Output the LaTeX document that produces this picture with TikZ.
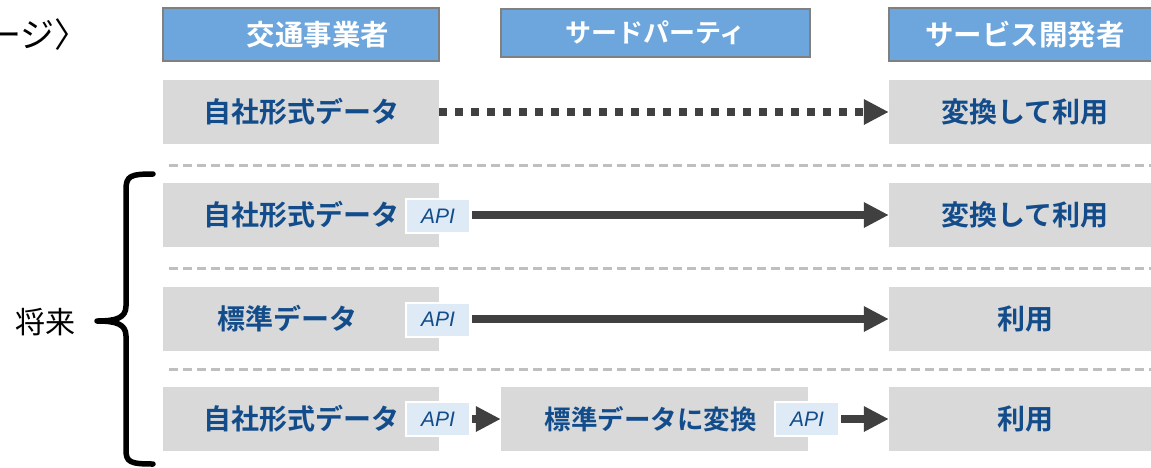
\documentclass[tikz,border=0pt]{standalone}
\usepackage{fontspec}
\newfontfamily\jp{Noto Sans CJK JP}[BoldFont={Noto Sans CJK JP Bold}]
\newfontfamily\apif{Liberation Sans}
\usetikzlibrary{arrows.meta}
\definecolor{hdr}{RGB}{108,166,220}
\definecolor{hdrline}{RGB}{128,128,128}
\definecolor{boxgray}{RGB}{217,217,217}
\definecolor{txtblue}{RGB}{18,76,138}
\definecolor{apifill}{RGB}{222,235,247}
\definecolor{arr}{RGB}{64,64,64}
\definecolor{sepgray}{RGB}{191,191,191}
\begin{document}
\begin{tikzpicture}[x=1pt,y=-1pt,
 hdrbox/.style={draw=hdrline, line width=2pt, fill=hdr, text=white, font=\jp\bfseries\fontsize{28.5}{30}\selectfont, inner sep=0pt},
 graybox/.style={fill=boxgray, minimum height=64pt, inner sep=0pt, text=txtblue, font=\jp\bfseries\fontsize{28}{30}\selectfont},
 apibox/.style={draw=white, line width=2pt, fill=apifill, minimum width=64pt, minimum height=34pt, inner sep=0pt, text=txtblue, font=\apif\itshape\fontsize{21}{22}\selectfont},
 conn/.style={draw=arr, line width=8pt, -{Triangle[length=25pt,width=24pt]}},
 dotconn/.style={conn, dash pattern=on 8pt off 8pt},
 sepline/.style={draw=sepgray, line width=3pt, dash pattern=on 9pt off 5pt},
 plain/.style={inner sep=0pt, text=black, font=\jp\fontsize{30}{32}\selectfont}
]
\useasboundingbox (0,0) rectangle (1151,467);
\clip (0,0) rectangle (1151,467);

% top-left cut text
\node[plain, anchor=west, font=\jp\fontsize{34}{36}\selectfont] (ttl) at (-13,35) {ージ〉};

% headers
\node[hdrbox, minimum width=276pt, minimum height=53pt] (h1) at (301,34.5) {\hspace*{34pt}交通事業者};
\node[hdrbox, minimum width=309pt, minimum height=48pt, font=\jp\bfseries\fontsize{26}{30}\selectfont] (h2) at (655.5,33) {サードパーティ};
\node[hdrbox, minimum width=272pt, minimum height=53pt] (h3) at (1025,34.5) {サービス開発者};

% row 1
\node[graybox, minimum width=276pt] (l1) at (301,112) {自社形式データ};
\node[graybox, minimum width=272pt] (r1) at (1025,112) {変換して利用};
\draw[dotconn] (l1.east) -- (r1.west);

\draw[sepline] (169,165) -- (1151,165);

% row 2
\node[graybox, minimum width=276pt] (l2) at (301,215) {自社形式データ};
\node[apibox] (a2) at (438,216) {API};
\node[graybox, minimum width=272pt] (r2) at (1025,215) {変換して利用};
\draw[conn, shorten <=1pt] (a2.east |- l2.center) -- (r2.west);

\draw[sepline] (169,268) -- (1151,268);

% row 3
\node[graybox, minimum width=276pt] (l3) at (301,319) {標準データ\hspace*{28pt}};
\node[apibox] (a3) at (438,319.5) {API};
\node[graybox, minimum width=272pt] (r3) at (1025,319) {利用};
\draw[conn, shorten <=1pt] (a3.east |- l3.center) -- (r3.west);

\draw[sepline] (169,369) -- (1151,369);

% row 4
\node[graybox, minimum width=276pt] (l4) at (301,419) {自社形式データ};
\node[graybox, minimum width=307pt, font=\jp\bfseries\fontsize{26.5}{30}\selectfont] (m4) at (654.5,419) {標準データに変換\hspace*{8pt}};
\node[graybox, minimum width=272pt] (r4) at (1025,419) {利用};
\node[apibox] (a4) at (438,419) {API};
\node[apibox] (b4) at (807,419) {API};
\draw[conn, shorten <=1pt] (a4.east) -- (m4.west);
\draw[conn, shorten <=1pt] (b4.east) -- (r4.west);

% brace and label
\draw[line width=5.5pt, line cap=round, line join=round]
  (153,174) .. controls (130,174) and (126,176) .. (126,190)
  -- (126,306) .. controls (126,318) and (116,321) .. (97,321)
  .. controls (116,321) and (126,324) .. (126,336)
  -- (126,450) .. controls (126,462) and (130,464) .. (153,464);
\node[plain] (fut) at (46,322) {将来};
\end{tikzpicture}
\end{document}
